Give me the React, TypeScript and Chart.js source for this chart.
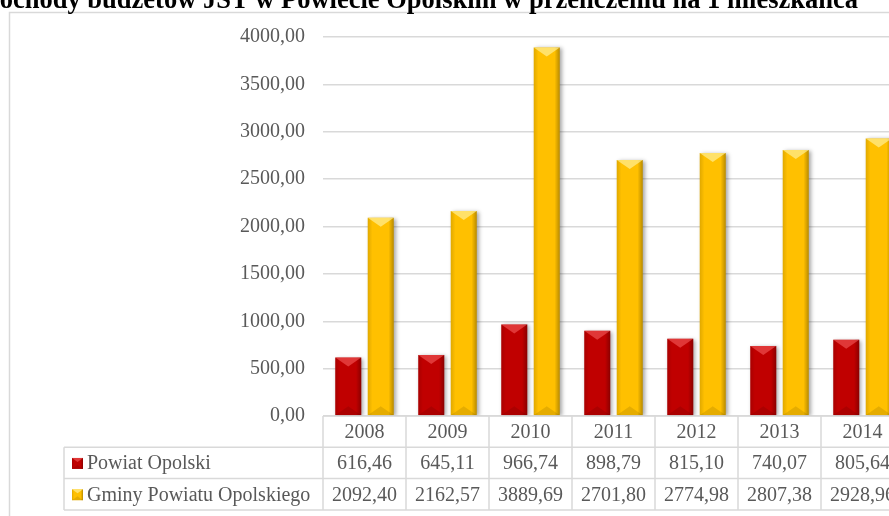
import React, { useEffect, useRef } from "react";
import { Chart, registerables } from "chart.js";

Chart.register(...registerables);

const TITLE = "Dochody budżetów JST w Powiecie Opolskim w przeliczeniu na 1 mieszkańca";
const YEARS = ["2008", "2009", "2010", "2011", "2012", "2013", "2014"];
const SERIES_NAMES = ["Powiat Opolski", "Gminy Powiatu Opolskiego"];
const POWIAT = [616.46, 645.11, 966.74, 898.79, 815.1, 740.07, 805.64];
const GMINY = [2092.4, 2162.57, 3889.69, 2701.8, 2774.98, 2807.38, 2928.96];
const COLORS = ["#c00000", "#ffc000"];
const LIGHT = ["rgba(255,110,110,0.5)", "rgba(255,240,150,0.7)"];

const fmt = (v: number) => v.toFixed(2).replace(".", ",");

const FONT = '20px "Liberation Serif", "Times New Roman", serif';
const TEXT = "#595959";
const LINE = "#d9d9d9";

function bevel(ctx: CanvasRenderingContext2D, l: number, r: number, t: number, b: number, di: number, hMax: number) {
  const cx = (l + r) / 2;
  const h = Math.min(hMax, (b - t) / 2);
  const g = ctx.createLinearGradient(l, 0, r, 0);
  g.addColorStop(0, "rgba(0,0,0,0.12)");
  g.addColorStop(0.18, "rgba(0,0,0,0)");
  g.addColorStop(0.8, "rgba(0,0,0,0)");
  g.addColorStop(1, "rgba(0,0,0,0.28)");
  ctx.fillStyle = g;
  ctx.fillRect(l, t, r - l, b - t);
  ctx.fillStyle = LIGHT[di];
  ctx.beginPath();
  ctx.moveTo(l, t);
  ctx.lineTo(r, t);
  ctx.lineTo(cx, t + h);
  ctx.closePath();
  ctx.fill();
  ctx.fillStyle = "rgba(0,0,0,0.10)";
  ctx.beginPath();
  ctx.moveTo(l, b);
  ctx.lineTo(r, b);
  ctx.lineTo(cx, b - h);
  ctx.closePath();
  ctx.fill();
}

const decorPlugin = {
  id: "decor",
  beforeDraw(chart: any) {
    const ctx = chart.ctx as CanvasRenderingContext2D;
    ctx.save();
    ctx.fillStyle = "#ffffff";
    ctx.fillRect(0, 0, chart.width, chart.height);
    ctx.strokeStyle = LINE;
    ctx.lineWidth = 1.5;
    ctx.strokeRect(9.5, 12.5, chart.width + 50, chart.height + 50);
    ctx.fillStyle = "#000000";
    ctx.font = 'bold 26.5px "Liberation Serif", "Times New Roman", serif';
    ctx.textAlign = "right";
    ctx.textBaseline = "alphabetic";
    ctx.fillText(TITLE, 858, 7.5);
    ctx.restore();
  },
  beforeDatasetsDraw(chart: any) {
    const ctx = chart.ctx;
    ctx.save();
    ctx.shadowColor = "rgba(0,0,0,0.35)";
    ctx.shadowBlur = 4;
    ctx.shadowOffsetX = 2;
    ctx.shadowOffsetY = 1;
  },
  afterDatasetsDraw(chart: any) {
    const ctx = chart.ctx as CanvasRenderingContext2D;
    ctx.restore();
    ctx.save();
    chart.data.datasets.forEach((_: any, di: number) => {
      chart.getDatasetMeta(di).data.forEach((el: any) => {
        const l = el.x - el.width / 2;
        const r = el.x + el.width / 2;
        bevel(ctx, l, r, el.y, el.base, di, 9);
      });
    });
    ctx.restore();
  },
  afterDraw(chart: any) {
    const ctx = chart.ctx as CanvasRenderingContext2D;
    const x = chart.scales.x;
    const area = chart.chartArea;
    const catW = x.getPixelForValue(1) - x.getPixelForValue(0);
    const rowH = 31.3;
    const top = area.bottom;
    const tableLeft = 64;
    const rightEdge = x.getPixelForValue(YEARS.length - 1) + catW / 2;
    ctx.save();
    ctx.strokeStyle = LINE;
    ctx.lineWidth = 1.5;
    ctx.beginPath();
    ctx.moveTo(area.left, top);
    ctx.lineTo(rightEdge, top);
    for (let k = 1; k <= 3; k++) {
      ctx.moveTo(tableLeft, top + rowH * k);
      ctx.lineTo(rightEdge, top + rowH * k);
    }
    ctx.moveTo(tableLeft, top + rowH);
    ctx.lineTo(tableLeft, top + rowH * 3);
    for (let i = 0; i <= YEARS.length; i++) {
      const px = x.getPixelForValue(0) - catW / 2 + catW * i;
      ctx.moveTo(px, top);
      ctx.lineTo(px, top + rowH * 3);
    }
    ctx.stroke();

    ctx.font = FONT;
    ctx.fillStyle = TEXT;
    ctx.textAlign = "center";
    ctx.textBaseline = "middle";
    const rows = [YEARS, POWIAT.map(fmt), GMINY.map(fmt)];
    rows.forEach((row, ri) => {
      const cy = top + rowH * ri + rowH / 2 + 1;
      row.forEach((txt, i) => {
        ctx.fillText(txt, x.getPixelForValue(i), cy);
      });
    });
    SERIES_NAMES.forEach((name, si) => {
      const cy = top + rowH * (si + 1) + rowH / 2;
      const ml = 72, mt = cy - 5, ms = 11;
      ctx.fillStyle = COLORS[si];
      ctx.fillRect(ml, mt, ms, ms);
      bevel(ctx, ml, ml + ms, mt, mt + ms, si, 4);
      ctx.fillStyle = TEXT;
      ctx.textAlign = "left";
      ctx.fillText(name, 87, cy + 1);
    });
    ctx.restore();
  },
};

export default function App() {
  const ref = useRef<HTMLCanvasElement>(null);
  useEffect(() => {
    if (!ref.current) return;
    const chart = new Chart(ref.current, {
      type: "bar",
      data: {
        labels: YEARS,
        datasets: [
          { label: SERIES_NAMES[0], data: POWIAT, backgroundColor: COLORS[0], categoryPercentage: 0.783, barPercentage: 0.8 },
          { label: SERIES_NAMES[1], data: GMINY, backgroundColor: COLORS[1], categoryPercentage: 0.783, barPercentage: 0.8 },
        ],
      },
      options: {
        responsive: false,
        animation: false,
        devicePixelRatio: 1,
        layout: { padding: { top: 37, left: 0, right: 26, bottom: 144 } },
        plugins: { legend: { display: false }, tooltip: { enabled: false }, title: { display: false } },
        scales: {
          x: { display: false },
          y: {
            min: 0,
            max: 4000,
            afterFit: (axis: any) => {
              axis.width = 323;
            },
            ticks: {
              stepSize: 500,
              padding: 18,
              color: TEXT,
              font: { family: '"Liberation Serif", "Times New Roman", serif', size: 20 },
              callback: (v: any) => fmt(Number(v)),
            },
            grid: { color: LINE, lineWidth: 1.5, drawTicks: false },
            border: { display: false },
          },
        },
      },
      plugins: [decorPlugin],
    });
    return () => chart.destroy();
  }, []);
  return (
    <div style={{ position: "fixed", left: 0, top: 0, width: 889, height: 516, overflow: "hidden", background: "#fff" }}>
      <canvas ref={ref} width={930} height={560} style={{ display: "block" }} />
    </div>
  );
}
